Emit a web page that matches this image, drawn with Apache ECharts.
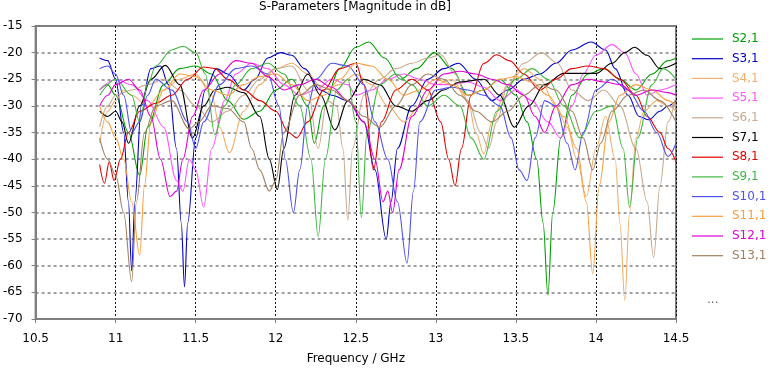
<!DOCTYPE html>
<html>
<head>
<meta charset="utf-8">
<title>S-Parameters</title>
<script src="https://cdn.jsdelivr.net/npm/echarts@6/dist/echarts.min.js"></script>
<style>
  html, body { margin: 0; padding: 0; background: #fff; }
  #chart { width: 768px; height: 370px; }
</style>
</head>
<body>
<div id="chart"></div>
<script>
// series names and colours (legend order)
var names = ["S2,1", "S3,1", "S4,1", "S5,1", "S6,1", "S7,1", "S8,1", "S9,1", "S10,1", "S11,1", "S12,1", "S13,1"];
var colors = ["#00a000", "#0000c8", "#f0b070", "#ff55ff", "#c8aa90", "#000000", "#e00000", "#40b840", "#5050f0", "#f8a040", "#e000d0", "#a08060"];

// [frequency GHz, magnitude dB]
var s21 = [[10.9,-27],[10.95,-26],[11.0,-28],[11.08,-35],[11.15,-43],[11.2,-34],[11.3,-26],[11.4,-23],[11.5,-22.5],[11.6,-24],[11.7,-29],[11.8,-32.5],[11.9,-31],[12.0,-27],[12.1,-25],[12.2,-30],[12.24,-37],[12.3,-30],[12.4,-23],[12.5,-19],[12.58,-18],[12.68,-21],[12.78,-25],[12.88,-23],[12.99,-20],[13.1,-23],[13.2,-28],[13.3,-27],[13.4,-25],[13.5,-28],[13.57,-33],[13.63,-40],[13.67,-52],[13.70,-65.5],[13.73,-50],[13.78,-36],[13.85,-28],[13.95,-24],[14.05,-23],[14.15,-25],[14.25,-27],[14.35,-24],[14.45,-21.5],[14.5,-21]];
var s31 = [[10.9,-21],[10.95,-21.5],[11.0,-25],[11.05,-35],[11.08,-48],[11.1,-61],[11.12,-48],[11.16,-30],[11.22,-23],[11.28,-22.5],[11.33,-26],[11.38,-38],[11.41,-52],[11.43,-64],[11.45,-52],[11.5,-36],[11.56,-27],[11.63,-23],[11.7,-24],[11.8,-27],[11.87,-25],[11.95,-21],[12.03,-20],[12.1,-20.5],[12.18,-23],[12.28,-27],[12.35,-28],[12.45,-29],[12.55,-33],[12.62,-42],[12.69,-55],[12.72,-48],[12.76,-38],[12.85,-30],[12.95,-25],[13.05,-23],[13.14,-22],[13.25,-25],[13.35,-29],[13.45,-27],[13.55,-25],[13.65,-24],[13.75,-22],[13.85,-19.5],[13.97,-18],[14.06,-19.5],[14.12,-23],[14.2,-28],[14.27,-32],[14.33,-32.6],[14.4,-31],[14.45,-30],[14.5,-29]];
var s41 = [[10.9,-37],[10.95,-31],[11.0,-29],[11.05,-27],[11.1,-28],[11.2,-30],[11.3,-27],[11.4,-25],[11.5,-24],[11.6,-28],[11.65,-34],[11.71,-38.8],[11.8,-31],[11.9,-26],[12.0,-23],[12.1,-22],[12.2,-24],[12.3,-27],[12.4,-26],[12.5,-24],[12.6,-26],[12.7,-30],[12.8,-33],[12.9,-30],[13.0,-26],[13.1,-25],[13.2,-29],[13.25,-35],[13.3,-39],[13.35,-33],[13.45,-26],[13.55,-23],[13.65,-25],[13.75,-30],[13.82,-34],[13.88,-40],[13.94,-47],[14.0,-38],[14.06,-32],[14.12,-40],[14.15,-52],[14.18,-66.5],[14.21,-50],[14.25,-36],[14.3,-31],[14.38,-29],[14.45,-30],[14.5,-31]];
var s51 = [[10.9,-27],[11.0,-25],[11.1,-26],[11.2,-29],[11.3,-34],[11.38,-44],[11.42,-46],[11.46,-40],[11.5,-42],[11.55,-49],[11.6,-38],[11.68,-29],[11.75,-24],[11.85,-22],[11.95,-23],[12.05,-26],[12.15,-28],[12.25,-27],[12.35,-25],[12.45,-26],[12.5,-28],[12.6,-27],[12.7,-25],[12.8,-24],[12.9,-25],[13.0,-26],[13.1,-26],[13.2,-25.5],[13.3,-26.5],[13.4,-29],[13.5,-27],[13.6,-29],[13.7,-33],[13.78,-36],[13.85,-30],[13.92,-24],[14.0,-20.5],[14.1,-18.5],[14.18,-20],[14.25,-24],[14.32,-28],[14.4,-27],[14.5,-26]];
var s61 = [[10.9,-34],[10.95,-30],[11.0,-28],[11.1,-27],[11.2,-26],[11.3,-25],[11.4,-27],[11.5,-30],[11.6,-33],[11.7,-31],[11.8,-28],[11.9,-25],[12.0,-23],[12.1,-22.5],[12.2,-27],[12.265,-38],[12.32,-29],[12.38,-30],[12.42,-38],[12.45,-51.5],[12.48,-38],[12.55,-28],[12.65,-25],[12.75,-23],[12.85,-22],[12.95,-21],[13.03,-20.4],[13.12,-24],[13.2,-29],[13.28,-35],[13.33,-38],[13.38,-33],[13.45,-26],[13.55,-22],[13.66,-20],[13.76,-22],[13.85,-27],[13.95,-29],[14.05,-27],[14.15,-30],[14.25,-38],[14.32,-48],[14.36,-58.5],[14.4,-45],[14.45,-33],[14.5,-28]];
var s71 = [[10.9,-31],[10.95,-32],[11.0,-31],[11.04,-33],[11.08,-37],[11.15,-30],[11.22,-25],[11.31,-22.4],[11.4,-26],[11.48,-36],[11.55,-30],[11.62,-27],[11.7,-26.5],[11.8,-27.5],[11.9,-32],[11.96,-40],[12.01,-45.7],[12.05,-38],[12.12,-28],[12.2,-24],[12.28,-28],[12.37,-34.5],[12.45,-29],[12.55,-25],[12.65,-26],[12.75,-30],[12.85,-31],[12.95,-29],[13.05,-27],[13.15,-25.5],[13.3,-25],[13.4,-28],[13.49,-34],[13.58,-30],[13.68,-26],[13.8,-23.9],[13.9,-23.9],[14.0,-23.9],[14.1,-22],[14.18,-20],[14.24,-19],[14.32,-20.5],[14.4,-23],[14.5,-22]];
var s81 = [[10.9,-41],[10.93,-44.5],[10.96,-40.5],[10.99,-44],[11.03,-40],[11.08,-35],[11.15,-31],[11.25,-29.5],[11.35,-28],[11.45,-25],[11.55,-22.7],[11.62,-23],[11.7,-25],[11.8,-27],[11.9,-29],[12.0,-31],[12.08,-35],[12.13,-36],[12.2,-33],[12.3,-27],[12.4,-23],[12.5,-22],[12.55,-26],[12.61,-42],[12.66,-33],[12.75,-27],[12.85,-25],[12.95,-27],[13.03,-33],[13.08,-40],[13.12,-45],[13.16,-38],[13.22,-28],[13.3,-22],[13.38,-20.4],[13.46,-21.5],[13.55,-24],[13.65,-27],[13.75,-25],[13.85,-23],[13.95,-22.5],[14.05,-23],[14.15,-25],[14.25,-28],[14.32,-32],[14.4,-35],[14.45,-38],[14.5,-40.5]];
var s91 = [[10.9,-28],[11.0,-25],[11.1,-28],[11.15,-33],[11.2,-26],[11.25,-22.5],[11.35,-19.5],[11.42,-18.8],[11.5,-20],[11.56,-24],[11.62,-35.4],[11.68,-30],[11.75,-26],[11.85,-23],[11.95,-22],[12.05,-24],[12.15,-30],[12.22,-40],[12.265,-54.5],[12.31,-40],[12.38,-27],[12.45,-25],[12.5,-33],[12.535,-51],[12.57,-35],[12.65,-26],[12.75,-24],[12.85,-26],[12.95,-30],[13.05,-28],[13.15,-30],[13.22,-36],[13.3,-40],[13.38,-31],[13.5,-25],[13.6,-23],[13.7,-25],[13.8,-30],[13.9,-36],[14.0,-31],[14.1,-30],[14.17,-38],[14.21,-49],[14.26,-36],[14.35,-26],[14.42,-23],[14.5,-25]];
var s101 = [[10.9,-23],[10.95,-22.5],[11.0,-24],[11.05,-28],[11.1,-35],[11.15,-33],[11.2,-28],[11.25,-25],[11.35,-27],[11.45,-33],[11.5,-38],[11.55,-33],[11.65,-26],[11.75,-23],[11.85,-22.5],[11.95,-24],[12.02,-30],[12.06,-40],[12.11,-50],[12.15,-42],[12.2,-30],[12.25,-25],[12.35,-22],[12.45,-22.5],[12.55,-26],[12.62,-33],[12.7,-40],[12.76,-48],[12.82,-59.5],[12.86,-46],[12.9,-33],[13.0,-27],[13.1,-26.5],[13.2,-27],[13.3,-28],[13.4,-30],[13.47,-36],[13.52,-42],[13.57,-44],[13.62,-36],[13.68,-29],[13.75,-30],[13.82,-37],[13.87,-42],[13.92,-35],[14.0,-27],[14.1,-25],[14.2,-27],[14.3,-31],[14.38,-35],[14.45,-39.5],[14.5,-37]];
var s111 = [[10.9,-30],[10.95,-33],[11.0,-36],[11.05,-40],[11.1,-48],[11.15,-58],[11.18,-45],[11.22,-33],[11.3,-27],[11.4,-24],[11.5,-24.5],[11.6,-27],[11.7,-28],[11.8,-26],[11.9,-24.5],[12.0,-24],[12.1,-26],[12.2,-29],[12.3,-28],[12.4,-25],[12.5,-22],[12.6,-22.5],[12.7,-25],[12.8,-28],[12.9,-27],[13.0,-25],[13.1,-26],[13.2,-28],[13.3,-27],[13.4,-25],[13.5,-24.5],[13.6,-25.5],[13.7,-28],[13.8,-32],[13.88,-38],[13.94,-48],[13.98,-61.5],[14.02,-45],[14.08,-33],[14.15,-28],[14.25,-26],[14.35,-27],[14.45,-29],[14.5,-30]];
var s121 = [[10.9,-30],[10.95,-28],[11.0,-26],[11.08,-25],[11.15,-27],[11.22,-32],[11.28,-40],[11.34,-47],[11.38,-46],[11.42,-40],[11.48,-32],[11.55,-27],[11.65,-24],[11.75,-21.5],[11.85,-22],[11.95,-24.5],[12.05,-27],[12.15,-26],[12.25,-25],[12.35,-26.5],[12.45,-29],[12.55,-33],[12.62,-40],[12.67,-48],[12.7,-46],[12.73,-50],[12.77,-42],[12.85,-32],[12.95,-27],[13.05,-24],[13.15,-23.5],[13.25,-24],[13.35,-25],[13.45,-26],[13.55,-28],[13.62,-32],[13.68,-35],[13.75,-30],[13.85,-26],[13.95,-25],[14.05,-25.5],[14.15,-26],[14.25,-28],[14.35,-27],[14.45,-27.5],[14.5,-28]];
var s131 = [[10.9,-36],[10.95,-40],[11.0,-43],[11.05,-50],[11.1,-63],[11.13,-48],[11.18,-35],[11.25,-30],[11.35,-29],[11.46,-34.3],[11.52,-33],[11.6,-30],[11.7,-30.5],[11.8,-33],[11.85,-38],[11.9,-42],[11.96,-46],[12.0,-44],[12.05,-35],[12.15,-28],[12.25,-26],[12.35,-27],[12.45,-29],[12.55,-32],[12.65,-34],[12.75,-30],[12.85,-26],[12.95,-24],[13.05,-25],[13.15,-28],[13.25,-31],[13.35,-33],[13.45,-31],[13.55,-28],[13.65,-26],[13.75,-27],[13.85,-31],[13.92,-36],[13.98,-42],[14.03,-37],[14.1,-31],[14.2,-28],[14.3,-27],[14.4,-29],[14.5,-33]];

var seriesData = [s21, s31, s41, s51, s61, s71, s81, s91, s101, s111, s121, s131];

var font = '"DejaVu Sans", sans-serif';
var chart = echarts.init(document.getElementById("chart"));

var series = [];
for (var i = 0; i < names.length; i++) {
    series.push({
        name: names[i],
        type: "line",
        data: seriesData[i],
        symbol: "none",
        smooth: 0.35,
        smoothMonotone: "x",
        lineStyle: { width: 1.1, color: colors[i] },
        itemStyle: { color: colors[i] }
    });
}

chart.setOption({
    animation: false,
    color: colors,
    title: {
        text: "S-Parameters [Magnitude in dB]",
        left: 354,
        textAlign: "center",
        top: 0,
        padding: 1,
        textStyle: { fontFamily: font, fontSize: 12, fontWeight: "normal", color: "#000" }
    },
    legend: {
        orient: "vertical",
        left: 692,
        top: 33,
        padding: 0,
        itemWidth: 31,
        itemHeight: 14,
        itemGap: 7.7,
        icon: "path://M0,0 L31,0 L31,1.2 L0,1.2 Z",
        data: names.map(function (n, i) {
            return { name: n, textStyle: { color: colors[i] } };
        }),
        textStyle: { fontFamily: font, fontSize: 12, padding: [0, 0, 0, 4] }
    },
    graphic: [{
        type: "text",
        left: 707,
        top: 294,
        style: { text: "...", fontFamily: font, fontSize: 12, fill: "#666" }
    }],
    grid: {
        left: 33, right: 92, top: 26, bottom: 50,
        show: true, borderColor: "#7f7f7f", borderWidth: 2, backgroundColor: "#fff"
    },
    xAxis: {
        type: "value",
        min: 10.5, max: 14.5, interval: 0.5,
        name: "Frequency / GHz",
        nameLocation: "middle",
        nameGap: 34,
        nameTextStyle: { fontFamily: font, fontSize: 12, color: "#000" },
        axisLine: { show: true, lineStyle: { color: "#7f7f7f", width: 2 } },
        axisTick: { show: true, length: 4, lineStyle: { color: "#7f7f7f" } },
        axisLabel: { fontFamily: font, fontSize: 12, color: "#000", margin: 14,
            formatter: function (v) { return String(Math.round(v * 10) / 10); } },
        splitLine: { show: true, lineStyle: { color: "#111", width: 1, type: [2, 2] } }
    },
    yAxis: {
        type: "value",
        min: -70, max: -15, interval: 5,
        axisLine: { show: true, lineStyle: { color: "#7f7f7f", width: 2 } },
        axisTick: { show: true, length: 4, lineStyle: { color: "#7f7f7f" } },
        axisLabel: { fontFamily: font, fontSize: 12, color: "#000", margin: 13 },
        splitLine: { show: true, lineStyle: { color: "#808080", width: 1.5, type: [3, 3] } }
    },
    series: series
});
</script>
</body>
</html>
